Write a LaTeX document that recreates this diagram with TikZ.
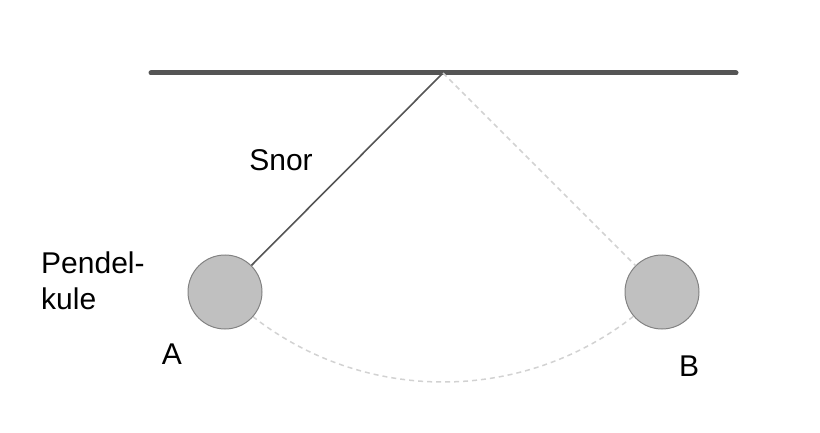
\documentclass[tikz,border=0pt]{standalone}
\usepackage{fontspec}
\setmainfont{Liberation Sans}
\begin{document}
\begin{tikzpicture}[x=1pt,y=1pt,
  ball/.style={circle,minimum size=74pt,inner sep=0pt,fill={rgb,255:red,192;green,192;blue,192},draw={rgb,255:red,130;green,130;blue,130},line width=1pt},
  lbl/.style={font=\fontsize{30}{36}\selectfont,inner sep=0pt},
  ghost/.style={dashed,draw={rgb,255:red,210;green,210;blue,210},line width=1.5pt,dash pattern=on 5pt off 4pt}]
\useasboundingbox (0,0) rectangle (820,432);
\coordinate (L) at (151,359);
\coordinate (R) at (736,359);
\coordinate (P) at (443,359);
\draw[line width=5pt,line cap=round,draw={rgb,255:red,85;green,85;blue,85}] (L) -- (R);
\draw[ghost] (P) ++(232:309) arc[start angle=232,end angle=308,radius=309];
\node[ball] (A) at (225,140) {};
\node[ball] (B) at (662,140) {};
\draw[line width=1.6pt,draw={rgb,255:red,85;green,85;blue,85}] (P) -- (A);
\draw[ghost] (P) -- (B);
\node[lbl] (snor) at (281,272) {Snor};
\node[lbl,align=left,anchor=north west] (pk) at (41,180) {Pendel-\\kule};
\node[lbl] (a) at (172,78) {A};
\node[lbl] (b) at (689,66) {B};
\end{tikzpicture}
\end{document}
